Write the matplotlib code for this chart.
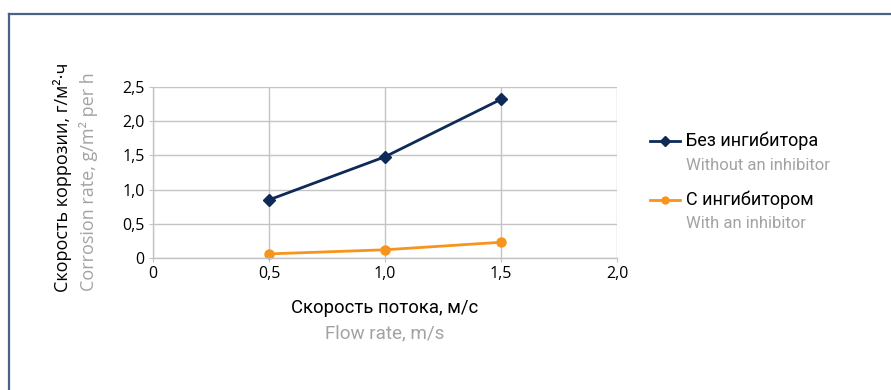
import matplotlib
matplotlib.use("Agg")
import matplotlib.pyplot as plt
from matplotlib.lines import Line2D

# Flow rate (m/s) and corrosion rate (g/m²·h)
flow_rate = [0.5, 1.0, 1.5]
no_inhibitor = [0.85, 1.48, 2.32]
with_inhibitor = [0.06, 0.12, 0.23]

x_ticks = [0, 0.5, 1.0, 1.5, 2.0]
y_ticks = [0, 0.5, 1.0, 1.5, 2.0, 2.5]
x_tick_labels = ["0", "0,5", "1,0", "1,5", "2,0"]
y_tick_labels = ["0", "0,5", "1,0", "1,5", "2,0", "2,5"]

NAVY = "#0e2a57"
ORANGE = "#f7941d"
GRAY_TEXT = "#a3a3a3"
GRID = "#c4c4c4"
TICK_FONT = "Open Sans"
LABEL_FONT = "Roboto"

W, H = 891, 390
fig = plt.figure(figsize=(W / 100, H / 100), dpi=100)

# frame lines along the top and left edge
fig.add_artist(Line2D([9 / W, 1.0], [1 - 14 / H, 1 - 14 / H], color="#4a6285", lw=1.6))
fig.add_artist(Line2D([9 / W, 9 / W], [0, 1 - 14 / H], color="#4a6285", lw=1.6))

ax = fig.add_axes([153 / W, 1 - 258 / H, (617 - 153) / W, (258 - 87) / H])
ax.set_xlim(0, 2.0)
ax.set_ylim(0, 2.5)
ax.set_xticks(x_ticks)
ax.set_yticks(y_ticks)
ax.set_xticklabels(x_tick_labels, family=TICK_FONT, fontsize=11.5)
ax.set_yticklabels(y_tick_labels, family=TICK_FONT, fontsize=11.5)
ax.tick_params(axis="both", length=3, color=GRID, pad=3, labelcolor="black")
ax.grid(True, color=GRID, lw=1)
ax.set_axisbelow(True)
for side in ["top", "right"]:
    ax.spines[side].set_visible(False)
for side in ["left", "bottom"]:
    ax.spines[side].set_color(GRID)
    ax.spines[side].set_linewidth(1)

ax.plot(flow_rate, no_inhibitor, color=NAVY, lw=2, marker="D", ms=6.5, clip_on=False)
ax.plot(flow_rate, with_inhibitor, color=ORANGE, lw=2, marker="o", ms=6.5, clip_on=False)

# axis titles (Russian / English)
fig.text(385 / W, 1 - 308 / H, "Скорость потока, м/с", family=LABEL_FONT,
         fontsize=13.3, color="black", ha="center", va="center")
fig.text(385 / W, 1 - 333 / H, "Flow rate, m/s", family=LABEL_FONT,
         fontsize=13.6, color=GRAY_TEXT, ha="center", va="center")
fig.text(62 / W, 1 - 292 / H, "Скорость коррозии, г/м²·ч", family=TICK_FONT,
         fontsize=13, color="black", rotation=90, rotation_mode="anchor",
         ha="left", va="center")
fig.text(88 / W, 1 - 291 / H, "Corrosion rate, g/m² per h", family=TICK_FONT,
         fontsize=13, color=GRAY_TEXT, rotation=90, rotation_mode="anchor",
         ha="left", va="center")

# legend
legend_items = [
    (NAVY, "D", "Без ингибитора", "Without an inhibitor", 141),
    (ORANGE, "o", "С ингибитором", "With an inhibitor", 200),
]
for color, marker, ru, en, y in legend_items:
    yf = 1 - y / H
    fig.add_artist(Line2D([650 / W, 680 / W], [yf, yf], color=color, lw=2))
    fig.add_artist(Line2D([665 / W], [yf], color=color, marker=marker, ms=5))
    fig.text(686 / W, yf, ru, family=LABEL_FONT, fontsize=13, color="black",
             ha="left", va="center")
    fig.text(686 / W, 1 - (y + 24) / H, en, family=LABEL_FONT, fontsize=12,
             color=GRAY_TEXT, ha="left", va="center")

fig.savefig("out.png", dpi=100, facecolor="white")
